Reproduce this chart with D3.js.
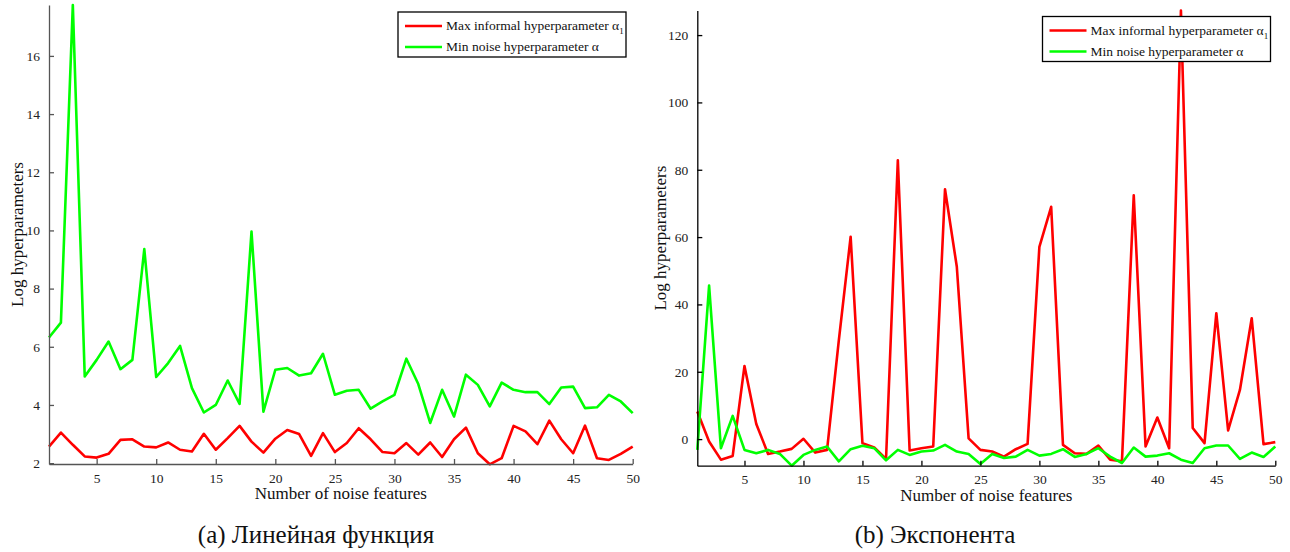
<!DOCTYPE html>
<html>
<head>
<meta charset="utf-8">
<script src="https://cdn.jsdelivr.net/npm/d3@7"></script>
<style>
  body { margin: 0; background: #ffffff; }
  svg { display: block; }
</style>
</head>
<body>
<svg id="chart" width="1290" height="552"></svg>
<script>

// Number of noise features on the x axis :
var features = d3.range(1, 51);

// (a) Linear function :
var linInformal = [2.57, 3.05, 2.63, 2.23, 2.19, 2.32, 2.80, 2.82, 2.57, 2.54,
                   2.71, 2.46, 2.40, 3.01, 2.46, 2.86, 3.28, 2.74, 2.36, 2.84,
                   3.14, 3.00, 2.25, 3.03, 2.38, 2.69, 3.20, 2.82, 2.38, 2.34,
                   2.69, 2.29, 2.71, 2.21, 2.82, 3.22, 2.34, 1.96, 2.17, 3.28,
                   3.09, 2.65, 3.46, 2.82, 2.34, 3.29, 2.17, 2.11, 2.32, 2.57];
var linNoise    = [6.32, 6.83, 17.75, 4.98, 5.55, 6.18, 5.23, 5.55, 9.36, 4.96,
                   5.44, 6.03, 4.58, 3.74, 4.00, 4.84, 4.04, 9.96, 3.77, 5.21,
                   5.27, 5.01, 5.09, 5.76, 4.35, 4.49, 4.52, 3.87, 4.12, 4.35,
                   5.59, 4.72, 3.38, 4.52, 3.60, 5.04, 4.69, 3.95, 4.77, 4.52,
                   4.44, 4.44, 4.03, 4.60, 4.63, 3.89, 3.92, 4.35, 4.12, 3.72];

// (b) Exponent :
var expInformal = [8.2, -0.7, -6.1, -5.0, 21.7, 4.5, -4.4, -3.7, -2.9, 0.1,
                   -4.0, -3.2, 29.4, 60.1, -1.2, -2.5, -5.9, 82.8, -3.4, -2.7,
                   -2.2, 74.2, 51.2, 0.2, -3.2, -3.7, -5.2, -3.0, -1.4, 57.1,
                   69.0, -1.7, -4.2, -4.4, -1.9, -6.1, -6.6, 72.4, -2.2, 6.4,
                   -2.7, 127.3, 3.3, -1.2, 37.4, 2.6, 14.6, 35.9, -1.5, -0.9];
var expNoise    = [-3.2, 45.6, -2.7, 6.9, -3.2, -4.2, -3.2, -4.4, -7.9, -4.7,
                   -3.2, -2.2, -6.6, -3.0, -2.0, -2.7, -6.3, -3.2, -4.7, -3.7,
                   -3.4, -1.7, -3.7, -4.4, -7.4, -4.4, -5.6, -5.2, -3.2, -4.9,
                   -4.4, -3.0, -5.3, -4.4, -2.7, -5.2, -7.1, -2.5, -5.2, -4.9,
                   -4.2, -6.1, -7.1, -2.7, -1.9, -1.9, -5.9, -4.0, -5.3, -2.2];

var xTicks = [5, 10, 15, 20, 25, 30, 35, 40, 45, 50];
var linYTicks = [2, 4, 6, 8, 10, 12, 14, 16];
var expYTicks = [0, 20, 40, 60, 80, 100, 120];

var seriesNames = ["Max informal hyperparameter \u03b1", "Min noise hyperparameter \u03b1"];
var seriesColors = ["#ff0000", "#00ff00"];

var serif = "'Liberation Serif', 'Times New Roman', serif";

var svg = d3.select("#chart");

// drawPanel Function Definition :
// One MATLAB-style subplot: left and bottom axes with inward ticks, two lines,
// legend box at top right and the subfigure caption underneath.
function drawPanel(p) {

  var x = d3.scaleLinear().domain([1, 50]).range([p.left, p.right]);
  var y = d3.scaleLinear().domain(p.yDomain).range([p.bottom, p.top]);

  var g = svg.append("g");

  var line = d3.line()
      .x(function(d, i) { return x(features[i]); })
      .y(function(d) { return y(d); });

  [p.informal, p.noise].forEach(function(vals, k) {
    g.append("path")
     .datum(vals)
     .attr("d", line)
     .attr("fill", "none")
     .attr("stroke", seriesColors[k])
     .attr("stroke-width", 2.6)
     .attr("stroke-linejoin", "round");
  });

  var xAxis = g.append("g")
      .attr("transform", "translate(0," + p.bottom + ")")
      .call(d3.axisBottom(x).tickValues(xTicks).tickSizeInner(-5).tickSizeOuter(0).tickPadding(9));

  var yAxis = g.append("g")
      .attr("transform", "translate(" + p.left + ",0)")
      .call(d3.axisLeft(y).tickValues(p.yTicks).tickSizeInner(-5).tickSizeOuter(0).tickPadding(9));

  [xAxis, yAxis].forEach(function(a) {
    a.select(".domain").attr("stroke", p.axisColor).attr("stroke-width", 1.3);
    a.selectAll(".tick line").attr("stroke", p.axisColor).attr("stroke-width", 1.3);
    a.selectAll(".tick text")
     .attr("fill", "#222")
     .style("font-family", serif)
     .style("font-size", "13.5px");
  });

  // Axis titles :
  g.append("text")
   .attr("x", (p.left + p.right) / 2)
   .attr("y", p.bottom + 35)
   .attr("text-anchor", "middle")
   .style("font-family", serif)
   .style("font-size", "17px")
   .attr("fill", "#111")
   .text("Number of noise features");

  g.append("text")
   .attr("transform", "translate(" + p.yLabelX + "," + ((p.top + p.bottom) / 2) + ") rotate(-90)")
   .attr("text-anchor", "middle")
   .attr("dy", "0.35em")
   .style("font-family", serif)
   .style("font-size", "17px")
   .attr("fill", "#111")
   .text("Log hyperparameters");

  // Legend :
  var lg = g.append("g").attr("transform", "translate(" + p.legendX + "," + p.legendY + ")");
  lg.append("rect")
    .attr("width", 228)
    .attr("height", 45)
    .attr("fill", "#ffffff")
    .attr("stroke", "#000")
    .attr("stroke-width", 1.3);

  seriesNames.forEach(function(name, k) {
    var ry = 14 + k * 21;
    lg.append("line")
      .attr("x1", 7).attr("x2", 44)
      .attr("y1", ry).attr("y2", ry)
      .attr("stroke", seriesColors[k])
      .attr("stroke-width", 2.6);
    var t = lg.append("text")
      .attr("x", 48)
      .attr("y", ry + 4)
      .style("font-family", serif)
      .style("font-size", "13.5px")
      .attr("fill", "#111")
      .text(name);
    if (k === 0) {
      t.append("tspan").attr("dy", 4).style("font-size", "9px").text("1");
    }
  });

  // Caption :
  g.append("text")
   .attr("x", p.captionX)
   .attr("y", 543)
   .attr("text-anchor", "middle")
   .style("font-family", serif)
   .style("font-size", "25px")
   .attr("fill", "#111")
   .text(p.caption);
}

drawPanel({
  left: 49, right: 632.7, top: 5, bottom: 464,
  yDomain: [1.97, 17.75], yTicks: linYTicks,
  informal: linInformal, noise: linNoise,
  axisColor: "#555", yLabelX: 17,
  legendX: 398, legendY: 12,
  captionX: 316, caption: "(a) Линейная функция"
});

drawPanel({
  left: 697.3, right: 1275.3, top: 10.5, bottom: 465.7,
  yDomain: [-7.9, 127.3], yTicks: expYTicks,
  informal: expInformal, noise: expNoise,
  axisColor: "#000", yLabelX: 660,
  legendX: 1042.5, legendY: 16.5,
  captionX: 935, caption: "(b) Экспонента"
});

</script>
</body>
</html>
